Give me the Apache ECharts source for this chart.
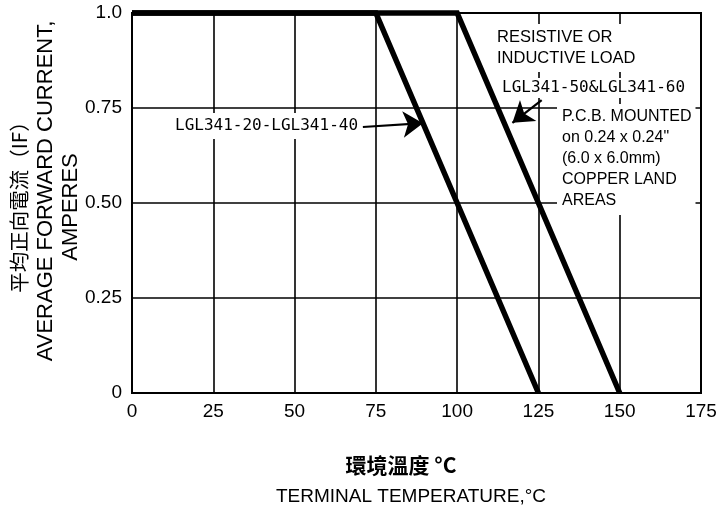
<!DOCTYPE html>
<html>
<head>
<meta charset="utf-8">
<script src="https://cdn.jsdelivr.net/npm/echarts@6/dist/echarts.min.js"></script>
<style>html,body{margin:0;padding:0;background:#fff}#c{width:720px;height:512px}</style>
</head>
<body>
<div id="c"></div>
<script>
// ---- data ----
var xTicks = [0, 25, 50, 75, 100, 125, 150, 175];
var yTickLabels = ['0', '0.25', '0.50', '0.75', '1.0'];
var seriesLowName = 'LGL341-20-LGL341-40';
var seriesLow = [[0, 1.0], [75, 1.0], [125, 0]];
var seriesHighName = 'LGL341-50&LGL341-60';
var seriesHigh = [[0, 1.0], [100, 1.0], [150, 0]];
var arrowLow = [[71, 0.70], [89.5, 0.71]];
var arrowHigh = [[126, 0.771], [117, 0.711]];
var noteLoad = 'RESISTIVE OR\nINDUCTIVE LOAD';
var noteMount = 'P.C.B. MOUNTED\non 0.24 x 0.24"\n(6.0 x 6.0mm)\nCOPPER LAND\nAREAS';
var yTitleZh = '平均正向電流（IF）';
var yTitleEn1 = 'AVERAGE FORWARD CURRENT,';
var yTitleEn2 = 'AMPERES';
var xTitleZh = '環境溫度 °C';
var xTitleEn = 'TERMINAL TEMPERATURE,°C';

var chart = echarts.init(document.getElementById('c'), null, {renderer: 'canvas'});
var sans = 'Liberation Sans, Arial, sans-serif';
var cjk = 'Noto Sans CJK TC, sans-serif';
var mono = 'DejaVu Sans Mono, monospace';

var option = {
  backgroundColor: '#fff',
  animation: false,
  grid: {left: 132, right: 19, top: 13, bottom: 119, show: true, borderColor: '#000', borderWidth: 2, backgroundColor: 'transparent'},
  xAxis: {
    type: 'value', min: xTicks[0], max: xTicks[xTicks.length - 1], interval: 25,
    axisLine: {show: true, lineStyle: {color: '#000', width: 2}},
    axisTick: {show: false},
    axisLabel: {color: '#000', fontFamily: sans, fontSize: 19, margin: 9},
    splitLine: {show: true, lineStyle: {color: '#000', width: 1.6}}
  },
  yAxis: {
    type: 'value', min: 0, max: 1, interval: 0.25,
    axisLine: {show: true, lineStyle: {color: '#000', width: 2}},
    axisTick: {show: false},
    axisLabel: {color: '#000', fontFamily: sans, fontSize: 19, margin: 10,
      formatter: function (v, i) { return yTickLabels[i]; }},
    splitLine: {show: true, lineStyle: {color: '#000', width: 1.6}}
  },
  series: [
    {name: seriesLowName, type: 'line', data: seriesLow, symbol: 'none', clip: false, z: 3,
      lineStyle: {color: '#000', width: 5.5, cap: 'butt', join: 'miter'}},
    {name: seriesHighName, type: 'line', data: seriesHigh, symbol: 'none', clip: false, z: 3,
      lineStyle: {color: '#000', width: 5.5, cap: 'butt', join: 'miter'}},
    {type: 'lines', coordinateSystem: 'cartesian2d', z: 4, symbol: ['none', 'arrow'], symbolSize: [11, 20],
      lineStyle: {color: '#000', width: 2.2, opacity: 1},
      data: [{coords: arrowLow}, {coords: arrowHigh}]}
  ],
  graphic: [
    {type: 'text', z: 1, left: 171, top: 113, style: {text: seriesLowName, font: '16px ' + mono, fill: '#000',
      backgroundColor: '#fff', padding: [5, 4]}},
    {type: 'text', z: 1, left: 493, top: 24, style: {text: noteLoad, font: '16.5px ' + sans, fill: '#000',
      lineHeight: 21, backgroundColor: '#fff', padding: [3, 4]}},
    {type: 'text', z: 1, left: 498, top: 78, style: {text: seriesHighName, font: '16px ' + mono, fill: '#000',
      backgroundColor: '#fff', padding: [2, 4]}},
    {type: 'text', z: 1, left: 557, top: 104, style: {text: noteMount, font: '16px ' + sans, fill: '#000',
      lineHeight: 21, backgroundColor: '#fff', padding: [2, 4, 4, 5]}},
    {type: 'text', x: 19, y: 202, rotation: Math.PI / 2, style: {text: yTitleZh, font: '20.5px ' + cjk, fill: '#000',
      textAlign: 'center', textVerticalAlign: 'middle'}},
    {type: 'text', x: 46, y: 191, rotation: Math.PI / 2, style: {text: yTitleEn1, font: '22px ' + sans, fill: '#000',
      textAlign: 'center', textVerticalAlign: 'middle'}},
    {type: 'text', x: 71, y: 207, rotation: Math.PI / 2, style: {text: yTitleEn2, font: '22px ' + sans, fill: '#000',
      textAlign: 'center', textVerticalAlign: 'middle'}},
    {type: 'text', x: 401, y: 465, style: {text: xTitleZh, font: 'bold 21px ' + cjk, fill: '#000',
      textAlign: 'center', textVerticalAlign: 'middle'}},
    {type: 'text', x: 411, y: 497, style: {text: xTitleEn, font: '19px ' + sans, fill: '#000',
      textAlign: 'center', textVerticalAlign: 'middle'}}
  ]
};
chart.setOption(option);
</script>
</body>
</html>
